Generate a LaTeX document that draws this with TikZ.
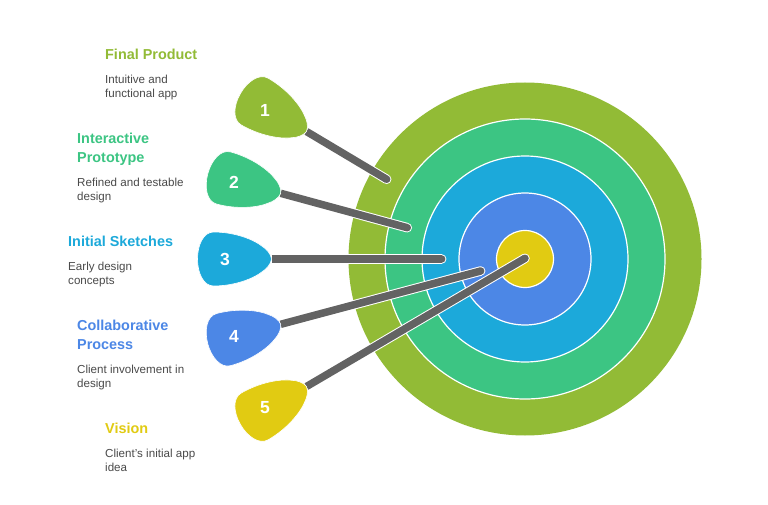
\documentclass[tikz,border=0pt]{standalone}
\usepackage{fontspec}
\setmainfont{Liberation Sans}
\definecolor{cGreen}{HTML}{92BB36}
\definecolor{cTeal}{HTML}{3CC583}
\definecolor{cBlue}{HTML}{1CA9DA}
\definecolor{cPeri}{HTML}{4C87E6}
\definecolor{cYellow}{HTML}{E1CB12}
\definecolor{cShaft}{HTML}{636363}
\definecolor{cBody}{HTML}{4A4A4A}
\tikzset{
  ring/.style={draw=white,line width=1.2pt},
  halo/.style={draw=white,line width=9.5pt},
  shaft/.style={draw=cShaft,line width=7.5pt},
  dartbody/.style={draw=white,line width=.6pt},
  num/.style={text=white,font=\fontsize{17.5}{17.5}\selectfont\bfseries,inner sep=0pt},
  head/.style={anchor=north west,inner sep=0pt,align=left,font=\fontsize{14.4}{19}\selectfont\bfseries},
  bodytxt/.style={anchor=north west,inner sep=0pt,align=left,text=cBody,font=\fontsize{11.6}{14.2}\selectfont},
}
\newcommand{\dartshape}{(0,0) .. controls (-0.5,-5) and (-5,-10) .. (-9.3,-12.7) .. controls (-17,-19) and (-36,-27) .. (-58,-27) .. controls (-68,-27) and (-74,-14) .. (-74,0) .. controls (-74,14) and (-68,27) .. (-58,27) .. controls (-36,27) and (-17,19) .. (-9.3,12.7) .. controls (-5,10) and (-0.5,5) .. (0,0) -- cycle}
\begin{document}
\begin{tikzpicture}[x=1pt,y=-1pt]
\useasboundingbox (0,0) rectangle (768,505);
\fill[white] (0,0) rectangle (768,505);
\coordinate (c) at (525,259);
% rings
\fill[cGreen] (c) circle[radius=176.5];
\filldraw[ring,fill=cTeal] (c) circle[radius=140];
\filldraw[ring,fill=cBlue] (c) circle[radius=103];
\filldraw[ring,fill=cPeri] (c) circle[radius=66];
\filldraw[ring,fill=cYellow] (c) circle[radius=28.5];
% connector ends
\coordinate (s1) at (306.5,131.5); \coordinate (e1) at (386.7,179.3);
\coordinate (s2) at (280.7,193.3); \coordinate (e2) at (407.3,227.7);
\coordinate (s3) at (271.5,259); \coordinate (e3) at (441.7,259);
\coordinate (s4) at (280.7,324.3); \coordinate (e4) at (480.7,271);
\coordinate (s5) at (306.5,386.5); \coordinate (e5) at (525,258.3);
% connectors
\foreach \i in {1,...,5}{
  \draw[halo] (s\i) -- (e\i);
  \fill[white] (e\i) circle[radius=4.75];
  \draw[shaft] (s\i) -- (e\i);
  \fill[cShaft] (e\i) circle[radius=3.75];
}
% darts
\begin{scope}[shift={(s1)},rotate=-30,xscale=1.03] \fill[cGreen,dartbody] \dartshape; \end{scope}
\begin{scope}[shift={(s2)},rotate=-15,xscale=1.02] \fill[cTeal,dartbody] \dartshape; \end{scope}
\begin{scope}[shift={(s3)}] \fill[cBlue,dartbody] \dartshape; \end{scope}
\begin{scope}[shift={(s4)},rotate=15,xscale=1.02] \fill[cPeri,dartbody] \dartshape; \end{scope}
\begin{scope}[shift={(s5)},rotate=30,xscale=1.03] \fill[cYellow,dartbody] \dartshape; \end{scope}
% numbers
\node[num] (n1) at (265,110) {1};
\node[num] (n2) at (234,182) {2};
\node[num] (n3) at (225,259.5) {3};
\node[num] (n4) at (234,336) {4};
\node[num] (n5) at (265,408) {5};
% text
\node[head,text=cGreen] (t1) at (105,49) {Final Product};
\node[bodytxt] (b1) at (105,75) {Intuitive and\\functional app};
\node[head,text=cTeal] (t2) at (77,133) {Interactive\\Prototype};
\node[bodytxt] (b2) at (77,178) {Refined and testable\\design};
\node[head,text=cBlue] (t3) at (68,236) {Initial Sketches};
\node[bodytxt] (b3) at (68,262) {Early design\\concepts};
\node[head,text=cPeri] (t4) at (77,320) {Collaborative\\Process};
\node[bodytxt] (b4) at (77,365) {Client involvement in\\design};
\node[head,text=cYellow] (t5) at (105,423) {Vision};
\node[bodytxt] (b5) at (105,449) {Client's initial app\\idea};
\end{tikzpicture}
\end{document}
